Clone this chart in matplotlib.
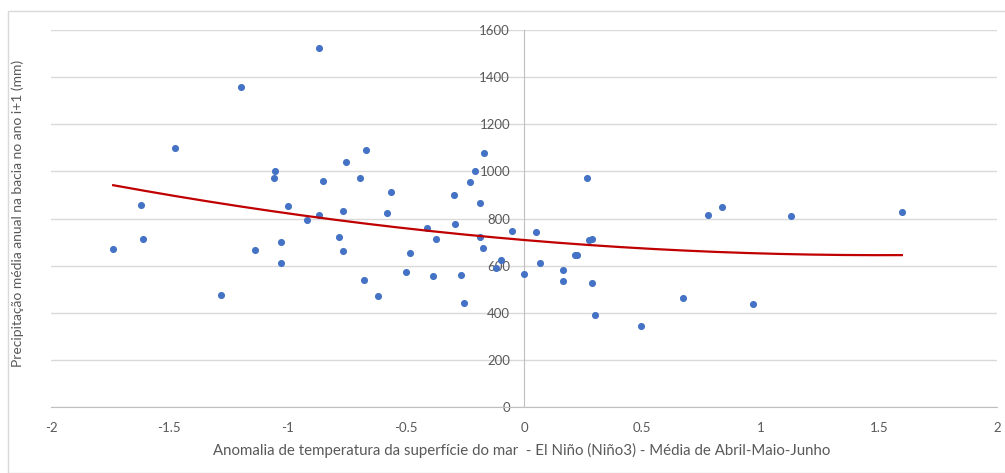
import matplotlib.pyplot as plt
import numpy as np

# anomalia TSM (Niño3, AMJ) vs precipitação média anual no ano i+1
anomalia = [-1.737, -1.619, -1.612, -1.475, -1.282, -1.195, -1.139, -1.053, -1.057,
            -1.026, -1.026, -0.998, -0.918, -0.868, -0.868, -0.851, -0.784, -0.764,
            -0.764, -0.752, -0.692, -0.675, -0.667, -0.616, -0.579, -0.564, -0.500,
            -0.483, -0.408, -0.383, -0.372, -0.295, -0.291, -0.266, -0.253, -0.227,
            -0.208, -0.187, -0.187, -0.174, -0.167, -0.119, -0.096, -0.049,
            0.001, 0.052, 0.069, 0.165, 0.165, 0.216, 0.226, 0.268, 0.273, 0.287,
            0.287, 0.302, 0.495, 0.674, 0.780, 0.838, 0.968, 1.130, 1.598]
precip = [671, 856, 714, 1098, 475, 1358, 667, 1002, 974,
          701, 613, 852, 794, 1522, 816, 961, 722, 831,
          664, 1040, 974, 537, 1091, 471, 823, 914, 571,
          652, 760, 555, 714, 898, 777, 560, 442, 955,
          1002, 865, 722, 676, 1077, 592, 622, 748,
          563, 743, 613, 580, 534, 646, 646, 974, 708, 714,
          526, 392, 345, 462, 814, 848, 437, 810, 827]

xticks = [-2, -1.5, -1, -0.5, 0, 0.5, 1, 1.5, 2]
yticks = [0, 200, 400, 600, 800, 1000, 1200, 1400, 1600]

plt.rcParams['font.family'] = ['Lato', 'DejaVu Sans']
plt.rcParams['axes.unicode_minus'] = False
cinza = '#595959'

fig = plt.figure(figsize=(10.05, 4.73), dpi=100)
ax = fig.add_axes([0.0507, 0.1395, 0.9413, 0.7971])

# moldura da área do gráfico
fig.patches.append(plt.Rectangle((8 / 1005, 0), 1, 1 - 11 / 473, transform=fig.transFigure,
                                 fill=False, edgecolor='#d9d9d9', linewidth=1))

ax.scatter(anomalia, precip, s=26, color='#4472C4', zorder=3, linewidths=0)

# linha de tendência polinomial (ordem 2)
coef = np.polyfit(anomalia, precip, 2)
xs = np.linspace(min(anomalia), max(anomalia), 200)
ax.plot(xs, np.polyval(coef, xs), color='#C00000', linewidth=1.6, zorder=4)

ax.set_xlim(-2, 2)
ax.set_ylim(0, 1600)
ax.set_xticks(xticks)
ax.set_yticks(yticks)
ax.set_xticklabels(['%g' % t for t in xticks])
ax.set_yticklabels(['%g' % t for t in yticks])
ax.grid(axis='y', color='#d9d9d9', linewidth=1)
ax.set_axisbelow(True)

for s in ['top', 'right']:
    ax.spines[s].set_visible(False)
ax.spines['left'].set_position(('data', 0))
ax.spines['left'].set_color('#bfbfbf')
ax.spines['bottom'].set_color('#bfbfbf')
ax.tick_params(length=0, labelsize=9.5, labelcolor=cinza)
ax.tick_params(axis='x', pad=11)
ax.tick_params(axis='y', pad=10)

fig.text(522 / 1005, 1 - 450 / 473, 'Anomalia de temperatura da superfície do mar  - El Niño (Niño3) - Média de Abril-Maio-Junho',
         ha='center', va='center', fontsize=10.85, color=cinza)
fig.text(18 / 1005, 1 - 213 / 473, 'Precipitação média anual na bacia no ano i+1 (mm)',
         ha='center', va='center', rotation=90, fontsize=10.0, color=cinza)

fig.savefig('out.png', dpi=100)
